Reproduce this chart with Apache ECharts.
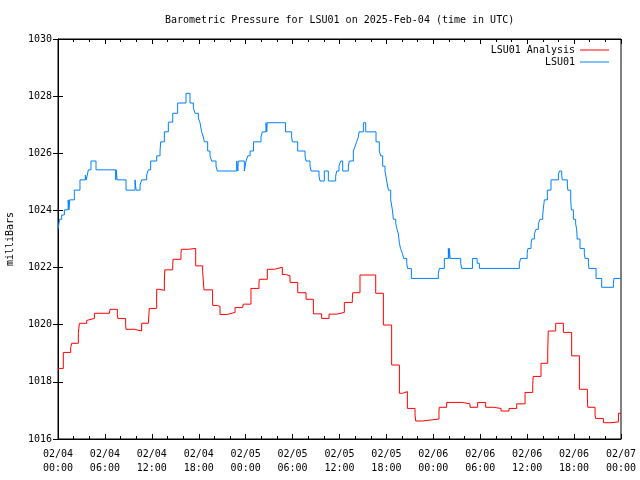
<!DOCTYPE html>
<html><head><meta charset="utf-8">
<script src="https://cdn.jsdelivr.net/npm/echarts@6/dist/echarts.min.js"></script>
<style>html,body{margin:0;padding:0;background:#fff}#c{width:640px;height:480px}</style>
</head><body><div id="c"></div>
<script>
// Hours since 2025-02-04 00:00 UTC at which the value changes (step series)
const analysisHours = [0,0.68,1.62,1.75,2.6,2.73,3.67,3.75,4.65,6.57,6.65,7.59,7.65,8.65,8.7,9.76,10.7,11.55,11.68,12.62,13.05,13.6,13.65,14.67,14.72,15.73,15.78,16.67,17.61,18.5,18.67,19.77,19.8,20.42,20.72,21.65,22.64,23.6,23.7,24.68,25.7,25.75,26.77,27.67,28.69,29.1,29.67,30.66,31.72,32.66,33.72,34.66,35.64,36.62,37.64,37.7,38.62,40.63,41.61,42.67,43.66,44.08,44.68,45.66,45.75,46.63,48.72,48.77,49.7,51.7,52.69,53.67,54.69,55.68,56.66,57.68,58.66,59.73,60.71,60.77,61.77,62.63,62.7,63.65,64.63,65.69,66.68,67.7,67.75,68.68,68.75,69.75,70.73,71.67,72];
const analysisValues = [1018.47,1019.03,1019.2,1019.35,1019.7,1020.05,1020.15,1020.22,1020.40,1020.47,1020.54,1020.35,1020.22,1020.0,1019.84,1019.78,1020.05,1020.1,1020.57,1021.24,1021.2,1021.5,1021.92,1022.1,1022.29,1022.5,1022.64,1022.67,1022.06,1021.85,1021.22,1020.8,1020.67,1020.64,1020.36,1020.43,1020.60,1020.64,1020.72,1021.27,1021.45,1021.59,1021.94,1022.01,1021.76,1021.71,1021.48,1021.12,1020.89,1020.38,1020.22,1020.37,1020.43,1020.78,1020.89,1021.12,1021.74,1021.1,1019.99,1018.59,1017.60,1017.66,1017.07,1016.84,1016.63,1016.70,1016.98,1017.11,1017.28,1017.23,1017.11,1017.28,1017.11,1017.07,1016.98,1017.07,1017.23,1017.63,1017.9,1018.19,1018.65,1019.08,1019.78,1020.05,1019.73,1018.91,1017.74,1017.4,1017.11,1016.84,1016.72,1016.57,1016.6,1016.9,1016.9];

const stationHours = [0,0.2,0.47,0.81,1.3,1.4,1.5,2.09,2.81,3.5,3.6,3.75,3.88,4.22,4.86,7.38,7.45,7.55,8.70,9.85,9.98,10.5,10.7,11.34,11.55,11.85,12.62,13.05,13.13,13.6,14.11,14.67,15.3,16.37,16.88,17.31,17.52,17.95,18.16,18.37,18.59,18.72,19.14,19.44,19.65,20.21,20.38,22.85,23.0,23.05,23.83,24.05,24.27,24.57,25.0,25.96,26.13,26.6,26.7,26.75,29.1,29.88,29.97,30.65,31.59,31.72,32.23,32.36,33.38,33.51,34.06,34.57,35.51,35.64,35.94,36.15,36.41,37.13,37.26,37.77,37.98,38.19,38.41,38.5,39.05,39.35,40.67,41.09,41.26,41.52,41.82,42.04,42.25,42.55,42.76,42.89,43.19,43.36,43.53,43.66,43.8,44.04,44.21,44.6,44.7,45.19,48.64,48.77,49.41,49.92,50.0,50.05,50.15,51.5,51.63,53.0,53.6,53.89,59.0,59.17,60.0,60.1,60.5,60.6,60.92,61.13,61.43,61.64,61.99,62.05,62.2,62.58,63.05,63.99,64.12,64.42,64.5,65.14,65.2,65.57,65.65,65.91,66.2,66.33,66.4,66.76,67.31,67.4,67.83,67.9,68.81,69.53,71.03,71.1,72];
const stationValues = [1023.34,1023.69,1023.84,1024.02,1024.37,1024.02,1024.37,1024.71,1025.07,1025.24,1025.07,1025.24,1025.42,1025.73,1025.42,1025.07,1025.42,1025.07,1024.71,1025.07,1024.71,1024.89,1025.07,1025.24,1025.42,1025.73,1025.91,1026.08,1026.40,1026.75,1027.09,1027.40,1027.76,1028.10,1027.76,1027.58,1027.40,1027.23,1027.07,1026.75,1026.57,1026.40,1026.08,1025.91,1025.73,1025.55,1025.38,1025.73,1025.38,1025.73,1025.38,1025.73,1025.91,1026.08,1026.40,1026.57,1026.75,1027.07,1026.75,1027.07,1026.75,1026.57,1026.40,1026.08,1025.91,1025.73,1025.55,1025.38,1025.2,1025.03,1025.38,1025.03,1025.2,1025.38,1025.55,1025.73,1025.38,1025.55,1025.73,1026.08,1026.23,1026.40,1026.57,1026.75,1027.07,1026.75,1026.40,1026.08,1025.91,1025.55,1025.38,1025.03,1024.71,1024.37,1024.02,1023.69,1023.53,1023.34,1023.18,1022.85,1022.67,1022.50,1022.32,1022.15,1021.97,1021.62,1021.8,1021.97,1022.32,1022.67,1022.32,1022.67,1022.32,1022.15,1021.97,1022.32,1022.15,1021.97,1022.15,1022.32,1022.5,1022.67,1022.85,1023.0,1023.18,1023.34,1023.53,1023.69,1023.84,1024.02,1024.37,1024.71,1025.07,1025.24,1025.38,1025.24,1025.07,1024.89,1024.71,1024.37,1024.02,1023.69,1023.53,1023.34,1023.0,1022.67,1022.5,1022.32,1022.15,1021.97,1021.62,1021.31,1021.45,1021.62,1021.62];

const xTickLabels = ["02/04\n00:00","02/04\n06:00","02/04\n12:00","02/04\n18:00","02/05\n00:00","02/05\n06:00","02/05\n12:00","02/05\n18:00","02/06\n00:00","02/06\n06:00","02/06\n12:00","02/06\n18:00","02/07\n00:00"];
const seriesNames = ["LSU01 Analysis","LSU01"];
const seriesColors = ["#ff0000","#0080ff"];

const FONT = 'DejaVu Sans Mono';
const pairs = (h, v) => h.map((x, i) => [x, v[i]]);
const black = '#000';

const xBase = {
  type: 'value', min: 0, max: 72, interval: 6,
  axisLine: {show: true, lineStyle: {color: black, width: 1}},
  axisTick: {show: true, inside: true, length: 5, lineStyle: {color: black}},
  minorTick: {show: true, splitNumber: 3, length: 3, lineStyle: {color: black}},
  splitLine: {show: false}, minorSplitLine: {show: false}
};
const yBase = {
  type: 'value', min: 1016, max: 1030, interval: 2, scale: true,
  axisLine: {show: true, lineStyle: {color: black, width: 1}},
  axisTick: {show: true, inside: true, length: 5, lineStyle: {color: black}},
  splitLine: {show: false}
};

const chart = echarts.init(document.getElementById('c'), null, {renderer: 'canvas'});
chart.setOption({
  animation: false,
  backgroundColor: '#fff',
  title: {
    text: 'Barometric Pressure for LSU01 on 2025-Feb-04 (time in UTC)',
    left: 165, top: 15, padding: 0,
    textStyle: {fontFamily: FONT, fontSize: 10, fontWeight: 'normal', color: black}
  },
  legend: {
    orient: 'vertical', right: 26, top: 40, align: 'right',
    itemWidth: 29, itemHeight: 1, itemGap: 2,
    textStyle: {fontFamily: FONT, fontSize: 10, color: black},
    data: seriesNames.map(n => ({name: n, icon: 'rect'}))
  },
  grid: {left: 58, right: 19, top: 39, bottom: 41, show: true, borderColor: black, borderWidth: 1,
         containLabel: false, outerBoundsMode: 'none'},
  xAxis: [
    Object.assign({}, xBase, {
      position: 'bottom',
      axisLabel: {formatter: v => xTickLabels[Math.round(v / 6)] || '', fontFamily: FONT, fontSize: 10, color: black, lineHeight: 14, margin: 8}
    }),
    Object.assign({}, xBase, {position: 'top', axisLabel: {show: false}})
  ],
  yAxis: [
    Object.assign({}, yBase, {
      position: 'left',
      name: 'milliBars', nameLocation: 'middle', nameGap: 43, nameRotate: 90,
      nameTextStyle: {fontFamily: FONT, fontSize: 10, color: black},
      axisLabel: {formatter: v => String(v), fontFamily: FONT, fontSize: 10, color: black, margin: 6}
    }),
    Object.assign({}, yBase, {position: 'right', axisLabel: {show: false}})
  ],
  series: [
    {name: seriesNames[0], type: 'line', step: 'end', data: pairs(analysisHours, analysisValues),
     showSymbol: false, symbol: 'none', color: seriesColors[0], lineStyle: {width: 1, color: seriesColors[0]}},
    {name: seriesNames[1], type: 'line', step: 'end', data: pairs(stationHours, stationValues),
     showSymbol: false, symbol: 'none', color: seriesColors[1], lineStyle: {width: 1, color: seriesColors[1]}}
  ]
});
</script></body></html>
